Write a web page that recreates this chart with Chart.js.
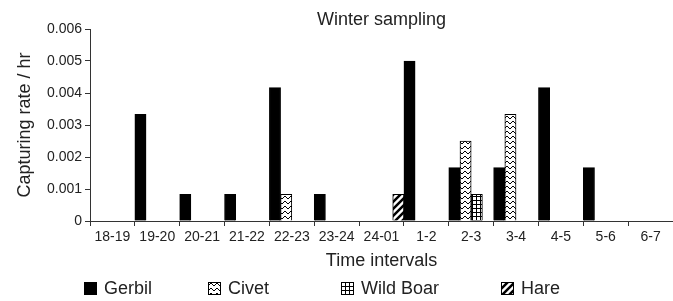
<!DOCTYPE html>
<html lang="en">
<head>
    <meta charset="UTF-8">
    <title>Winter sampling</title>
    <script src="https://cdn.jsdelivr.net/npm/chart.js"></script>
    <style>
        body { margin: 0; background: #fff; }
        .wrap { position: relative; width: 673px; height: 301px; }
        #legend {
            position: absolute; left: 84px; top: 278px; height: 21px;
            display: grid; grid-template-columns: 124px 133px 160px auto;
            font: 18px "Liberation Sans", Arial, sans-serif; color: #222; line-height: 21px;
        }
        #legend div { display: flex; align-items: center; white-space: nowrap; }
        #legend canvas { margin-right: 7px; }
    </style>
</head>
<body>
    <div class="wrap">
        <canvas id="winterChart" width="673" height="301"></canvas>
        <div id="legend"></div>
    </div>

    <script>
        const intervals = ['18-19', '19-20', '20-21', '21-22', '22-23', '23-24', '24-01', '1-2', '2-3', '3-4', '4-5', '5-6', '6-7'];
        const gerbil   = [null, 0.00333, 0.000833, 0.000833, 0.00417, 0.000833, null, 0.005, 0.00167, 0.00167, 0.00417, 0.00167, null];
        const civet    = [null, null, null, null, 0.000833, null, null, null, 0.0025, 0.00333, null, null, null];
        const wildBoar = [null, null, null, null, null, null, null, null, 0.000833, null, null, null, null];
        const hare     = [null, null, null, null, null, null, 0.000833, null, null, null, null, null, null];
        const yTicks = [0, 0.001, 0.002, 0.003, 0.004, 0.005, 0.006];

        Chart.defaults.font.family = '"Liberation Sans", Arial, sans-serif';
        Chart.defaults.color = '#222';

        // small tiles used as fill patterns (bars and legend markers)
        function makeTile(kind) {
            const c = document.createElement('canvas');
            const t = c.getContext('2d');
            if (kind === 'zigzag') {
                c.width = 6; c.height = 5;
                t.fillStyle = '#fff'; t.fillRect(0, 0, 6, 5);
                t.strokeStyle = '#000'; t.lineWidth = 1;
                t.beginPath(); t.moveTo(0, 4); t.lineTo(3, 1); t.lineTo(6, 4); t.stroke();
            } else if (kind === 'grid') {
                c.width = 4; c.height = 4;
                t.fillStyle = '#fff'; t.fillRect(0, 0, 4, 4);
                t.fillStyle = '#000'; t.fillRect(0, 0, 4, 1); t.fillRect(0, 0, 1, 4);
            } else {
                c.width = 7; c.height = 7;
                t.fillStyle = '#fff'; t.fillRect(0, 0, 7, 7);
                t.strokeStyle = '#000'; t.lineWidth = 2.5;
                t.beginPath();
                t.moveTo(-1, 8); t.lineTo(8, -1);
                t.moveTo(-1, 1); t.lineTo(1, -1);
                t.moveTo(6, 8); t.lineTo(8, 6);
                t.stroke();
            }
            return c;
        }

        const ctx = document.getElementById('winterChart').getContext('2d');
        const tiles = { zigzag: makeTile('zigzag'), grid: makeTile('grid'), stripes: makeTile('stripes') };
        const pattern = kind => ctx.createPattern(tiles[kind], 'repeat');

        // legend drawn as html so items can sit where the original put them
        const htmlLegend = {
            id: 'htmlLegend',
            afterUpdate(chart) {
                const box = document.getElementById('legend');
                box.innerHTML = '';
                chart.data.datasets.forEach(ds => {
                    const item = document.createElement('div');
                    const mark = document.createElement('canvas');
                    mark.width = 13; mark.height = 13;
                    const m = mark.getContext('2d');
                    m.fillStyle = ds.legendKind ? m.createPattern(tiles[ds.legendKind], 'repeat') : '#000';
                    m.fillRect(0, 0, 13, 13);
                    m.strokeStyle = '#000'; m.lineWidth = 1;
                    m.strokeRect(0.5, 0.5, 12, 12);
                    const label = document.createElement('span');
                    label.textContent = ds.label;
                    item.appendChild(mark);
                    item.appendChild(label);
                    box.appendChild(item);
                });
            }
        };

        const barStyle = { borderColor: '#000', borderWidth: 1, barPercentage: 1, categoryPercentage: 1 };

        new Chart(ctx, {
            type: 'bar',
            data: {
                labels: intervals,
                datasets: [
                    { label: 'Gerbil', data: gerbil, backgroundColor: '#000', ...barStyle },
                    { label: 'Civet', data: civet, backgroundColor: pattern('zigzag'), legendKind: 'zigzag', ...barStyle },
                    { label: 'Wild Boar', data: wildBoar, backgroundColor: pattern('grid'), legendKind: 'grid', ...barStyle },
                    { label: 'Hare', data: hare, backgroundColor: pattern('stripes'), legendKind: 'stripes', ...barStyle }
                ]
            },
            plugins: [htmlLegend],
            options: {
                responsive: false,
                animation: false,
                layout: { padding: { left: 10, right: 0, top: 0, bottom: 25 } },
                plugins: {
                    legend: { display: false },
                    tooltip: { enabled: false },
                    title: {
                        display: true,
                        text: 'Winter sampling',
                        fullSize: false,
                        color: '#222',
                        font: { size: 18, weight: 'normal', lineHeight: 1 },
                        padding: { top: 11, bottom: 0 }
                    }
                },
                scales: {
                    x: {
                        grid: { drawOnChartArea: false, tickLength: 5, color: '#333', offset: true },
                        border: { color: '#333' },
                        ticks: { font: { size: 14 }, color: '#222', padding: 3, maxRotation: 0, autoSkip: false },
                        title: { display: true, text: 'Time intervals', color: '#222', font: { size: 18 }, padding: { top: 0, bottom: 4 } },
                        afterFit(scale) { scale.height = 55; }
                    },
                    y: {
                        min: 0,
                        max: 0.006,
                        afterBuildTicks(scale) { scale.ticks = yTicks.map(v => ({ value: v })); },
                        grid: { drawOnChartArea: false, tickLength: 5, color: '#333' },
                        border: { color: '#333' },
                        ticks: {
                            font: { size: 14 }, color: '#222', padding: 3,
                            callback: v => (v === 0 ? '0' : v.toFixed(3))
                        },
                        title: { display: true, text: 'Capturing rate / hr', color: '#222', font: { size: 18 } },
                        afterFit(scale) { scale.width = 80; }
                    }
                }
            }
        });
    </script>
</body>
</html>
